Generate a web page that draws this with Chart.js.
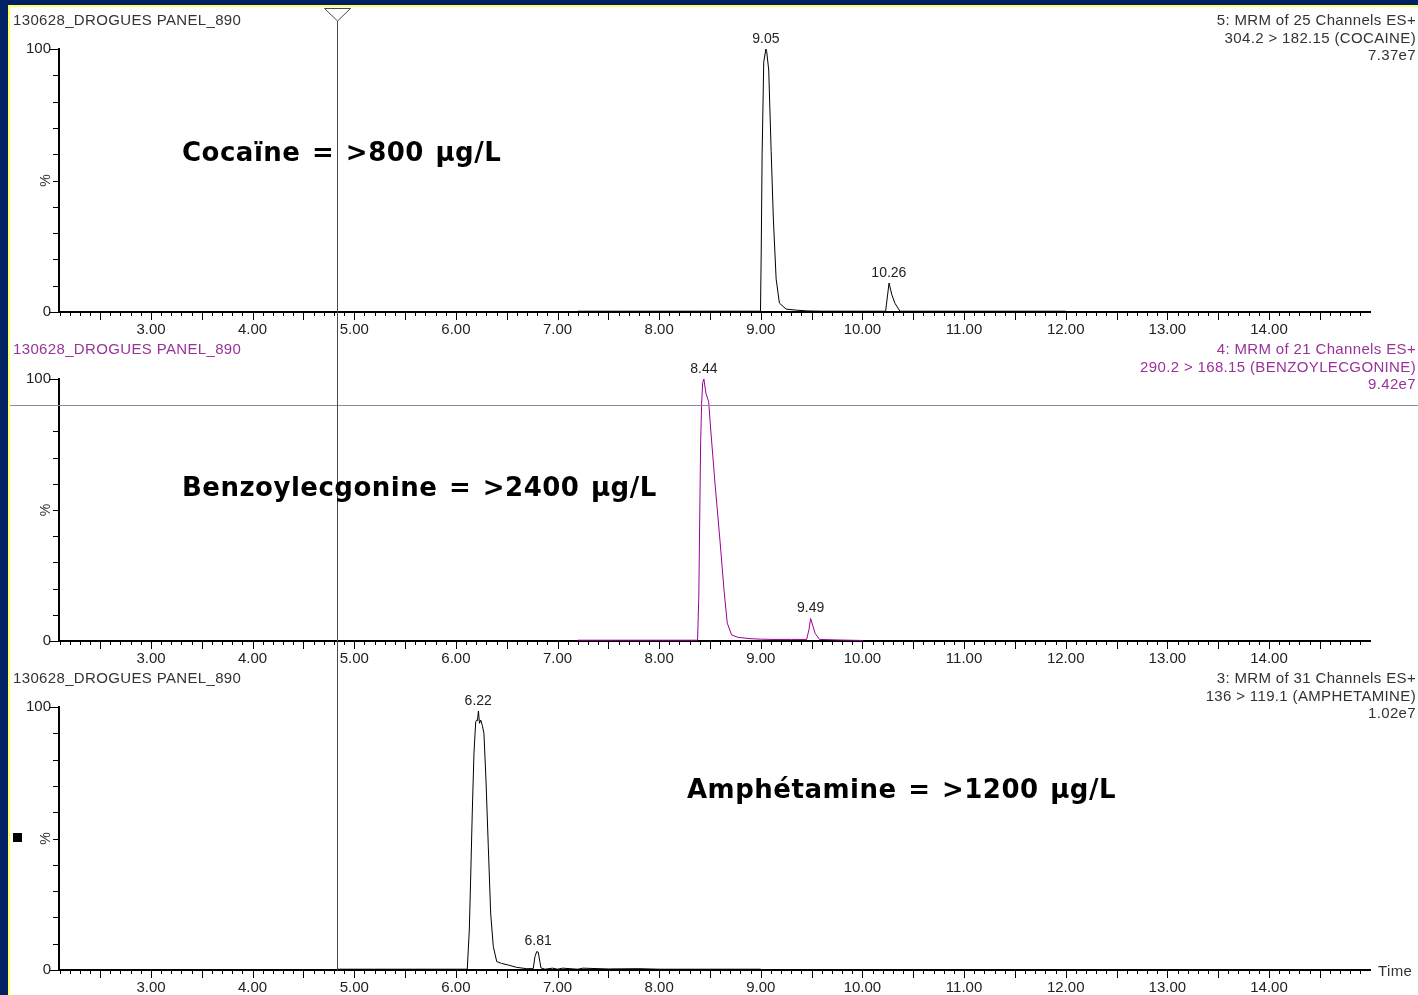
<!DOCTYPE html>
<html><head><meta charset="utf-8">
<script src="https://cdn.jsdelivr.net/npm/chart.js@4.4.1/dist/chart.umd.min.js"></script>
<style>
html,body{margin:0;padding:0;background:#fff;}
body{width:1418px;height:995px;position:relative;overflow:hidden;font-family:"Liberation Sans",Arial,sans-serif;}
canvas{position:absolute;left:0;top:0;}
.blk{position:absolute;}
.hdr{position:absolute;font-size:15px;line-height:17.5px;letter-spacing:0.35px;white-space:pre;color:#333;}
.hl{left:13px;}
.hr{right:2px;text-align:right;}
.ann{position:absolute;font-family:"DejaVu Sans",sans-serif;font-weight:bold;font-size:26px;line-height:26px;letter-spacing:0.5px;word-spacing:2px;white-space:pre;color:#000;}
</style></head>
<body>
<div class="blk" style="left:0;top:0;width:8px;height:995px;background:#002163"></div>
<div class="blk" style="left:0;top:0;width:1418px;height:5px;background:#002163"></div>
<div class="blk" style="left:8px;top:5px;width:2px;height:990px;background:#ffff66"></div>
<div class="blk" style="left:8px;top:5px;width:1410px;height:2px;background:#ffff66"></div>
<div class="blk" style="left:13px;top:833px;width:9px;height:9px;background:#000"></div>

<canvas id="c1" width="1418" height="995"></canvas>
<canvas id="c2" width="1418" height="995"></canvas>
<canvas id="c3" width="1418" height="995"></canvas>

<div class="hdr hl" style="top:11px">130628_DROGUES PANEL_890</div>
<div class="hdr hr" style="top:11px">5: MRM of 25 Channels ES+
304.2 &gt; 182.15 (COCAINE)
7.37e7</div>
<div class="hdr hl" style="top:340px;color:#993399">130628_DROGUES PANEL_890</div>
<div class="hdr hr" style="top:340px;color:#993399">4: MRM of 21 Channels ES+
290.2 &gt; 168.15 (BENZOYLECGONINE)
9.42e7</div>
<div class="hdr hl" style="top:669px">130628_DROGUES PANEL_890</div>
<div class="hdr hr" style="top:669px">3: MRM of 31 Channels ES+
136 &gt; 119.1 (AMPHETAMINE)
1.02e7</div>
<div class="hdr" style="left:1378px;top:962px">Time</div>

<div class="ann" style="left:182px;top:139px">Cocaïne = &gt;800 µg/L</div>
<div class="ann" style="left:182px;top:474px">Benzoylecgonine = &gt;2400 µg/L</div>
<div class="ann" style="left:687px;top:776px">Amphétamine = &gt;1200 µg/L</div>

<script>
// ---- data ----
const xTickValues = [3, 4, 5, 6, 7, 8, 9, 10, 11, 12, 13, 14];
const yTickValues = [0, 100];

const cocaineTime = [7.20, 7.60, 8.00, 8.40, 8.80, 8.99, 8.997, 9.004, 9.013, 9.029, 9.050, 9.058, 9.078, 9.102, 9.124, 9.151, 9.183, 9.249, 9.35, 9.459, 9.6, 10.0, 10.228, 10.262, 10.29, 10.32, 10.369, 10.6, 11.0, 11.5, 12.0];
const cocaineIntensity = [0.3, 0.3, 0.3, 0.3, 0.3, 0.3, 0.4, 22, 60, 95, 100, 99, 92, 61, 35, 12.5, 3.4, 1.1, 0.7, 0.4, 0.3, 0.3, 0.3, 11, 6.5, 3.3, 0.3, 0.3, 0.3, 0.3, 0.3];
const cocainePeaks = [9.05, 10.26];
const cocainePeakHeights = [100, 11];

const bzeTime = [7.20, 7.60, 8.00, 8.30, 8.378, 8.390, 8.400, 8.408, 8.418, 8.428, 8.440, 8.460, 8.487, 8.510, 8.549, 8.598, 8.638, 8.670, 8.713, 8.775, 8.893, 9.0, 9.120, 9.30, 9.451, 9.475, 9.490, 9.535, 9.578, 9.75, 10.0];
const bzeIntensity = [0.3, 0.3, 0.3, 0.3, 0.3, 16.9, 50, 75.6, 90.8, 98.5, 100, 94.6, 91.3, 79.4, 60.3, 38.5, 19.5, 6.8, 2.3, 1.4, 0.9, 0.7, 0.6, 0.6, 0.6, 4.5, 8.6, 2.9, 0.6, 0.4, 0.2];
const bzePeaks = [8.44, 9.49];
const bzePeakHeights = [100, 8.6];

const ampTime = [4.83, 5.2, 5.6, 6.0, 6.10, 6.112, 6.132, 6.145, 6.161, 6.178, 6.195, 6.205, 6.212, 6.222, 6.232, 6.245, 6.260, 6.276, 6.296, 6.319, 6.342, 6.368, 6.402, 6.450, 6.515, 6.598, 6.696, 6.761, 6.778, 6.795, 6.81, 6.837, 6.876, 6.95, 7.0, 7.05, 7.2, 7.25, 7.5, 7.8, 8.0, 8.5, 9.0];
const ampIntensity = [0.3, 0.3, 0.3, 0.3, 0.3, 0.3, 15.2, 34.2, 59.7, 82.5, 94.4, 95, 94.8, 98.5, 93.8, 95, 93, 90, 72.2, 46.9, 21.7, 8.9, 3.2, 2.5, 1.9, 1.0, 0.5, 0.5, 5.1, 7.0, 6.8, 0.8, 0.3, 0.7, 0.3, 0.7, 0.3, 0.7, 0.4, 0.5, 0.3, 0.3, 0.3];
const ampPeaks = [6.22, 6.81];
const ampPeakHeights = [98.5, 7.0];

const cursorTime = 4.83;
const hCursorValue = 90.1; // in benzoylecgonine panel

// ---- layout ----
const X_MIN = 2.095, X_MAX = 14.994;
const W = 1418, H = 995;
const AXIS_LEFT = 59, AXIS_RIGHT = 1370, XAXIS_H = 30;
const FONT = '"Liberation Sans", Arial, sans-serif';

function msPlugin(cfg) {
  return {
    id: 'ms' + cfg.id,
    afterDraw(chart) {
      const {ctx, scales: {x, y}, chartArea: a} = chart;
      ctx.save();
      ctx.strokeStyle = '#000';
      ctx.lineWidth = 1;
      ctx.beginPath();
      for (let i = Math.ceil(X_MIN * 10); i <= Math.floor(X_MAX * 10); i++) {
        const px = Math.round(x.getPixelForValue(i / 10)) + 0.5;
        const len = i % 5 === 0 ? 8 : 4;
        ctx.moveTo(px, a.bottom); ctx.lineTo(px, a.bottom + len);
      }
      for (let v = 0; v <= 100; v += 10) {
        const py = Math.round(y.getPixelForValue(v)) + 0.5;
        const len = (v === 0 || v === 100) ? 8 : 4;
        ctx.moveTo(a.left - 2 - len, py); ctx.lineTo(a.left, py);
      }
      ctx.stroke();
      ctx.fillStyle = '#333';
      ctx.font = '14px ' + FONT;
      ctx.translate(a.left - 13, y.getPixelForValue(50));
      ctx.rotate(-Math.PI / 2);
      ctx.textAlign = 'center'; ctx.textBaseline = 'middle';
      ctx.fillText('%', 0, 0);
      ctx.restore();
      ctx.save();
      ctx.fillStyle = '#222';
      ctx.font = '14px ' + FONT;
      ctx.textAlign = 'center'; ctx.textBaseline = 'middle';
      cfg.peaks.forEach((t, i) => {
        ctx.fillText(t.toFixed(2), x.getPixelForValue(t), y.getPixelForValue(cfg.peakHeights[i]) - 10);
      });
      ctx.restore();
      if (cfg.extra) cfg.extra(chart);
    }
  };
}

function makeChart(id, cfg) {
  return new Chart(document.getElementById(id), {
    type: 'line',
    data: {
      datasets: [{
        data: cfg.time.map((t, i) => ({x: t, y: cfg.intensity[i]})),
        borderColor: cfg.color, borderWidth: 1, pointRadius: 0, tension: 0, fill: false
      }]
    },
    options: {
      responsive: false, animation: false, events: [],
      layout: {padding: {left: 0, right: W - AXIS_RIGHT, top: cfg.top, bottom: H - cfg.bottom - XAXIS_H}},
      plugins: {legend: {display: false}, tooltip: {enabled: false}},
      scales: {
        x: {
          type: 'linear', min: X_MIN, max: X_MAX,
          afterFit: s => { s.height = XAXIS_H; },
          afterBuildTicks: s => { s.ticks = xTickValues.map(v => ({value: v})); },
          ticks: {callback: v => Number(v).toFixed(2), font: {family: FONT, size: 15}, color: '#222', padding: 9, maxRotation: 0, autoSkip: false},
          grid: {display: false, drawTicks: false},
          border: {display: true, color: '#000', width: 2}
        },
        y: {
          type: 'linear', min: 0, max: 100,
          afterFit: s => { s.width = AXIS_LEFT; },
          afterBuildTicks: s => { s.ticks = yTickValues.map(v => ({value: v})); },
          ticks: {callback: v => String(v), font: {family: FONT, size: 15}, color: '#222', padding: 8},
          grid: {display: false, drawTicks: false},
          border: {display: true, color: '#000', width: 2}
        }
      }
    },
    plugins: [msPlugin(cfg)]
  });
}

makeChart('c1', {id: 1, top: 49, bottom: 312, time: cocaineTime, intensity: cocaineIntensity, color: '#000', peaks: cocainePeaks, peakHeights: cocainePeakHeights});
makeChart('c2', {id: 2, top: 379, bottom: 641, time: bzeTime, intensity: bzeIntensity, color: '#990099', peaks: bzePeaks, peakHeights: bzePeakHeights,
  extra(chart) {
    const {ctx, scales: {y}} = chart;
    const py = Math.round(y.getPixelForValue(hCursorValue)) + 0.5;
    ctx.save(); ctx.strokeStyle = '#8a8aa0'; ctx.lineWidth = 1;
    ctx.beginPath(); ctx.moveTo(10, py); ctx.lineTo(W, py); ctx.stroke(); ctx.restore();
  }});
makeChart('c3', {id: 3, top: 707, bottom: 970, time: ampTime, intensity: ampIntensity, color: '#000', peaks: ampPeaks, peakHeights: ampPeakHeights,
  extra(chart) {
    const {ctx, scales: {x}, chartArea: a} = chart;
    const px = Math.round(x.getPixelForValue(cursorTime)) + 0.5;
    ctx.save(); ctx.strokeStyle = '#4a4a4a'; ctx.lineWidth = 1;
    ctx.beginPath(); ctx.moveTo(px, 21); ctx.lineTo(px, a.bottom); ctx.stroke();
    ctx.beginPath(); ctx.moveTo(px - 13, 8.5); ctx.lineTo(px + 13, 8.5); ctx.lineTo(px, 21); ctx.closePath();
    ctx.fillStyle = '#fff'; ctx.fill(); ctx.stroke();
    ctx.restore();
  }});
</script>
</body></html>
